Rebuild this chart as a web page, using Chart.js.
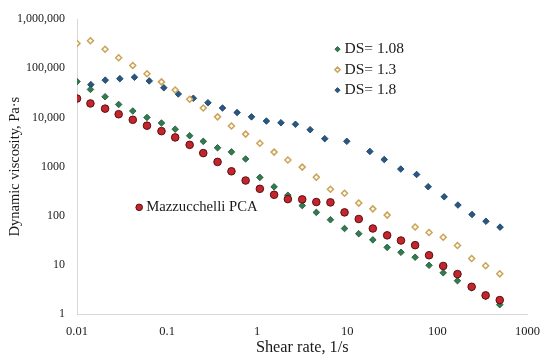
<!DOCTYPE html>
<html>
<head>
<meta charset="utf-8">
<script src="https://cdn.jsdelivr.net/npm/chart.js@4/dist/chart.umd.min.js"></script>
<style>
  html, body { margin: 0; padding: 0; background: #ffffff; }
  #wrap { width: 550px; height: 362px; position: relative; }
</style>
</head>
<body>
<div id="wrap"><canvas id="c" width="550" height="362"></canvas></div>
<script>
// ---- Data ----
const shearRate = [0.01, 0.0141, 0.0205, 0.029, 0.0416, 0.0598, 0.0866, 0.123, 0.178, 0.252,
  0.363, 0.518, 0.744, 1.07, 1.54, 2.19, 3.16, 4.53, 6.5, 9.32,
  13.4, 19.2, 27.7, 39.4, 56.6, 80.8, 116, 167, 240, 343, 492];

const viscDS108 = [53700, 37200, 26400, 18400, 13550, 10000, 7710, 5770, 4245, 3265,
  2413, 1990, 1430, 603, 387, 261, 161, 117, 83, 55,
  43.1, 32.3, 22.7, 18.0, 14.3, 9.8, 6.9, 4.76, 3.41, 2.28, 1.55];

const viscDS13 = [321500, 364000, 244300, 164500, 114000, 77500, 52960, 36180, 23500, 15560,
  10290, 6715, 4587, 2980, 1972, 1366, 977, 609, 345, 287,
  181, 138, 103, null, 58.9, 45.7, 36.4, 24.8, 13.5, 9.6, 6.57];

const viscPCA = [24270, 19290, 15130, 11650, 8970, 6810, 5265, 3925, 2770, 1883,
  1246, 802, 521, 353, 267, 218, 215, 190, 187, 117,
  85.8, 55, 39.9, 31.3, 25.2, 15.7, 9.5, 6.48, 3.58, 2.39, 1.92];

const shearRateDS18 = [0.01425, 0.0206, 0.0299, 0.0434, 0.0634, 0.092, 0.133, 0.1955, 0.284, 0.412,
  0.598, 0.865, 1.265, 1.835, 2.66, 3.87, 5.62, 9.87, 17.8, 25.7,
  39.2, 58.8, 79.0, 119, 169, 242, 346, 496];

const viscDS18 = [46600, 57500, 61600, 65760, 55450, 40200, 30100, 24600, 19930, 15560,
  12590, 10290, 8450, 7810, 7260, 5640, 3700, 3270, 2036, 1391,
  891, 692, 390, 243, 165, 106, 77.2, 58.6];

const seriesNames = ['DS= 1.08', 'DS= 1.3', 'DS= 1.8', 'Mazzucchelli PCA'];

const yTickValues = [1, 10, 100, 1000, 10000, 100000, 1000000];
const yTickLabels = ['1', '10', '100', '1000', '10,000', '100,000', '1,000,000'];
const xTickValues = [0.01, 0.1, 1, 10, 100, 1000];
const xTickLabels = ['0.01', '0.1', '1', '10', '100', '1000'];

const annotationAt = { x: 0.049, y: 148 };

// ---- helpers ----
function toPoints(xs, ys) {
  const out = [];
  for (let i = 0; i < xs.length; i++) {
    if (ys[i] !== null && ys[i] !== undefined) out.push({ x: xs[i], y: ys[i] });
  }
  return out;
}

const SERIF = "'Liberation Serif', 'Times New Roman', serif";
const TXT = '#1a1a1a';

const styles = [
  { bg: '#2f7d4e', border: '#1c4f31', bw: 0.8, style: 'rectRot', r: 3.3 },
  { bg: '#fffbea', border: '#c9a35a', bw: 1.5, style: 'rectRot', r: 3.0 },
  { bg: '#275784', border: '#173a5c', bw: 0.8, style: 'rectRot', r: 3.3 },
  { bg: '#c1262c', border: '#5e0d11', bw: 1.0, style: 'circle', r: 3.8 }
];

function ds(i, data, order) {
  const s = styles[i];
  return {
    label: seriesNames[i],
    data: data,
    showLine: false,
    pointStyle: s.style,
    pointRadius: s.r,
    pointHoverRadius: s.r,
    backgroundColor: s.bg,
    borderColor: s.border,
    pointBorderWidth: s.bw,
    order: order
  };
}

function drawMarker(ctx, s, x, y, r) {
  ctx.save();
  ctx.fillStyle = s.bg;
  ctx.strokeStyle = s.border;
  ctx.lineWidth = s.bw;
  ctx.beginPath();
  if (s.style === 'circle') {
    ctx.arc(x, y, r, 0, Math.PI * 2);
  } else {
    ctx.moveTo(x, y - r); ctx.lineTo(x + r, y); ctx.lineTo(x, y + r); ctx.lineTo(x - r, y); ctx.closePath();
  }
  ctx.fill();
  ctx.stroke();
  ctx.restore();
}

const overlay = {
  id: 'overlay',
  afterDatasetsDraw(chart) {
    const { ctx, chartArea: a, scales } = chart;
    ctx.save();
    ctx.font = "15.5px " + SERIF;
    ctx.fillStyle = TXT;
    ctx.textBaseline = 'middle';
    ctx.textAlign = 'left';
    const rowsY = [a.top + 30, a.top + 50.5, a.top + 71];
    const mx = a.right - 190;
    for (let i = 0; i < 3; i++) {
      drawMarker(ctx, styles[i], mx, rowsY[i], 2.6);
      ctx.fillText(seriesNames[i], mx + 7, rowsY[i]);
    }
    // annotation for the PCA series
    const px = scales.x.getPixelForValue(annotationAt.x);
    const py = scales.y.getPixelForValue(annotationAt.y);
    drawMarker(ctx, styles[3], px, py, 3.3);
    ctx.font = "14.7px " + SERIF;
    ctx.fillText(seriesNames[3], px + 7, py);
    ctx.restore();
  }
};

new Chart(document.getElementById('c'), {
  type: 'scatter',
  data: {
    datasets: [
      ds(0, toPoints(shearRate, viscDS108), 2),
      ds(1, toPoints(shearRate, viscDS13), 3),
      ds(2, toPoints(shearRateDS18, viscDS18), 4),
      ds(3, toPoints(shearRate, viscPCA), 1)
    ]
  },
  options: {
    responsive: false,
    animation: false,
    devicePixelRatio: 1,
    layout: { padding: { top: 13, right: 18, bottom: 0, left: 0 } },
    plugins: { legend: { display: false }, tooltip: { enabled: false } },
    scales: {
      x: {
        type: 'logarithmic',
        position: 'bottom',
        min: 0.01,
        max: 1000,
        afterBuildTicks(scale) { scale.ticks = xTickValues.map(v => ({ value: v })); },
        afterFit(scale) { scale.height = 48; },
        grid: { display: false, drawTicks: false },
        border: { display: true, color: '#d9d9d9', width: 1 },
        ticks: {
          autoSkip: false,
          maxRotation: 0,
          padding: 10,
          color: TXT,
          font: { family: SERIF, size: 12.5 },
          callback(v) { const i = xTickValues.indexOf(v); return i >= 0 ? xTickLabels[i] : ''; }
        },
        title: {
          display: true,
          text: 'Shear rate, 1/s',
          color: TXT,
          font: { family: SERIF, size: 16.3 },
          padding: { top: 0, bottom: 4 }
        }
      },
      y: {
        type: 'logarithmic',
        min: 1,
        max: 1000000,
        afterBuildTicks(scale) { scale.ticks = yTickValues.map(v => ({ value: v })); },
        afterFit(scale) { scale.width = 77; },
        grid: { display: false, drawTicks: false },
        border: { display: true, color: '#d9d9d9', width: 1 },
        ticks: {
          autoSkip: false,
          padding: 12,
          color: TXT,
          font: { family: SERIF, size: 12 },
          callback(v) { const i = yTickValues.indexOf(v); return i >= 0 ? yTickLabels[i] : ''; }
        },
        title: {
          display: true,
          text: 'Dynamic viscosity, Pa·s',
          color: TXT,
          font: { family: SERIF, size: 14.5 },
          padding: { top: 6, bottom: 0 }
        }
      }
    }
  },
  plugins: [overlay]
});
</script>
</body>
</html>
